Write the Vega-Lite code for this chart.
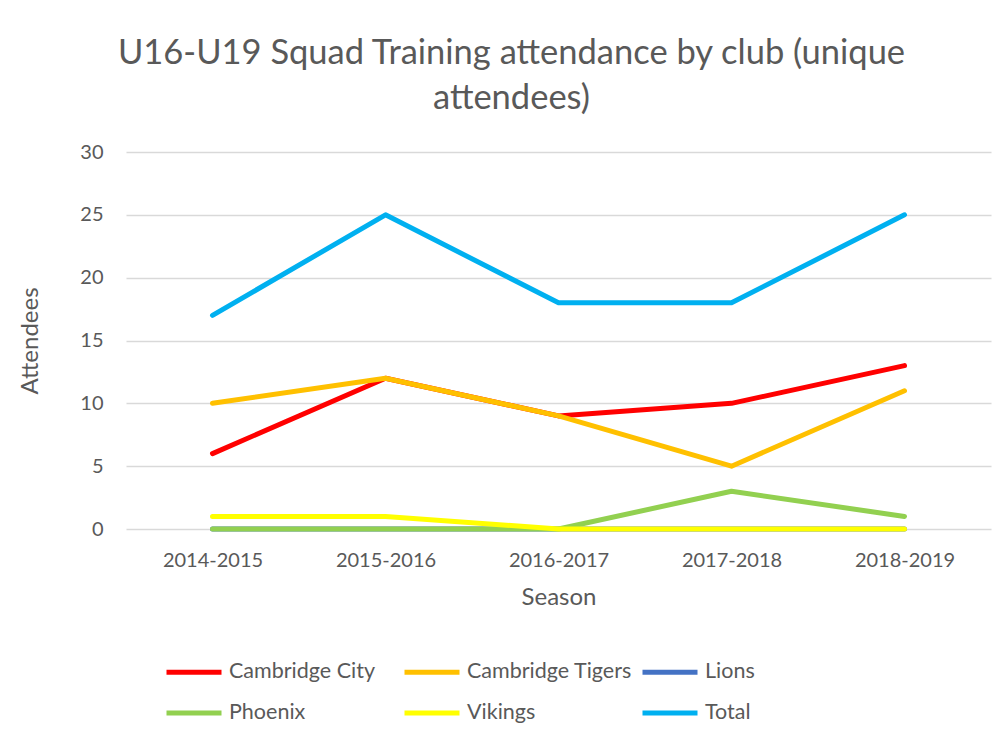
{
  "$schema": "https://vega.github.io/schema/vega-lite/v6.json",
  "width": 865,
  "height": 377,
  "autosize": {"type": "none"},
  "padding": {"left": 126, "top": 152, "right": 16, "bottom": 218},
  "background": "white",
  "title": {
    "text": ["U16-U19 Squad Training attendance by club (unique", "attendees)"],
    "font": "Lato",
    "fontSize": 34.5,
    "fontWeight": "normal",
    "color": "#595959",
    "anchor": "middle",
    "frame": "group",
    "dx": -47,
    "offset": 26,
    "lineHeight": 45
  },
  "config": {
    "view": {"stroke": null},
    "font": "Lato"
  },
  "data": {
    "values": [
      {"club": "Cambridge City", "season": "2014-2015", "attendees": 6},
      {"club": "Cambridge City", "season": "2015-2016", "attendees": 12},
      {"club": "Cambridge City", "season": "2016-2017", "attendees": 9},
      {"club": "Cambridge City", "season": "2017-2018", "attendees": 10},
      {"club": "Cambridge City", "season": "2018-2019", "attendees": 13},
      {"club": "Cambridge Tigers", "season": "2014-2015", "attendees": 10},
      {"club": "Cambridge Tigers", "season": "2015-2016", "attendees": 12},
      {"club": "Cambridge Tigers", "season": "2016-2017", "attendees": 9},
      {"club": "Cambridge Tigers", "season": "2017-2018", "attendees": 5},
      {"club": "Cambridge Tigers", "season": "2018-2019", "attendees": 11},
      {"club": "Lions", "season": "2014-2015", "attendees": 0},
      {"club": "Lions", "season": "2015-2016", "attendees": 0},
      {"club": "Lions", "season": "2016-2017", "attendees": 0},
      {"club": "Lions", "season": "2017-2018", "attendees": 0},
      {"club": "Lions", "season": "2018-2019", "attendees": 0},
      {"club": "Phoenix", "season": "2014-2015", "attendees": 0},
      {"club": "Phoenix", "season": "2015-2016", "attendees": 0},
      {"club": "Phoenix", "season": "2016-2017", "attendees": 0},
      {"club": "Phoenix", "season": "2017-2018", "attendees": 3},
      {"club": "Phoenix", "season": "2018-2019", "attendees": 1},
      {"club": "Vikings", "season": "2014-2015", "attendees": 1},
      {"club": "Vikings", "season": "2015-2016", "attendees": 1},
      {"club": "Vikings", "season": "2016-2017", "attendees": 0},
      {"club": "Vikings", "season": "2017-2018", "attendees": 0},
      {"club": "Vikings", "season": "2018-2019", "attendees": 0},
      {"club": "Total", "season": "2014-2015", "attendees": 17},
      {"club": "Total", "season": "2015-2016", "attendees": 25},
      {"club": "Total", "season": "2016-2017", "attendees": 18},
      {"club": "Total", "season": "2017-2018", "attendees": 18},
      {"club": "Total", "season": "2018-2019", "attendees": 25}
    ]
  },
  "mark": {"type": "line", "strokeWidth": 5, "strokeCap": "round", "strokeJoin": "round"},
  "encoding": {
    "x": {
      "field": "season",
      "type": "ordinal",
      "scale": {"type": "point", "padding": 0.5},
      "axis": {
        "title": "Season",
        "labelAngle": 0,
        "labelFontSize": 20,
        "labelColor": "#595959",
        "labelPadding": 21,
        "titleFontSize": 24,
        "titleFontWeight": "normal",
        "titleColor": "#595959",
        "titlePadding": 15,
        "domain": false,
        "ticks": false,
        "grid": false
      }
    },
    "y": {
      "field": "attendees",
      "type": "quantitative",
      "scale": {"domain": [0, 30], "nice": false},
      "axis": {
        "title": "Attendees",
        "values": [0, 5, 10, 15, 20, 25, 30],
        "labelFontSize": 20,
        "labelColor": "#595959",
        "labelPadding": 23,
        "titleFontSize": 24,
        "titleFontWeight": "normal",
        "titleColor": "#595959",
        "titlePadding": 37,
        "domain": false,
        "ticks": false,
        "grid": true,
        "gridColor": "#d9d9d9",
        "gridWidth": 1.5
      }
    },
    "color": {
      "field": "club",
      "type": "nominal",
      "scale": {
        "domain": ["Cambridge City", "Cambridge Tigers", "Lions", "Phoenix", "Vikings", "Total"],
        "range": ["#FF0000", "#FFC000", "#4472C4", "#92D050", "#FFFF00", "#00B0F0"]
      },
      "legend": {
        "title": null,
        "orient": "none",
        "direction": "horizontal",
        "legendX": 38,
        "legendY": 490,
        "columns": 3,
        "gridAlign": "all",
        "symbolType": "stroke",
        "symbolSize": 3025,
        "symbolStrokeWidth": 5,
        "labelFontSize": 21.5,
        "labelLimit": 400,
        "labelColor": "#595959",
        "labelOffset": 5,
        "columnPadding": 0,
        "rowPadding": -11
      }
    }
  }
}
